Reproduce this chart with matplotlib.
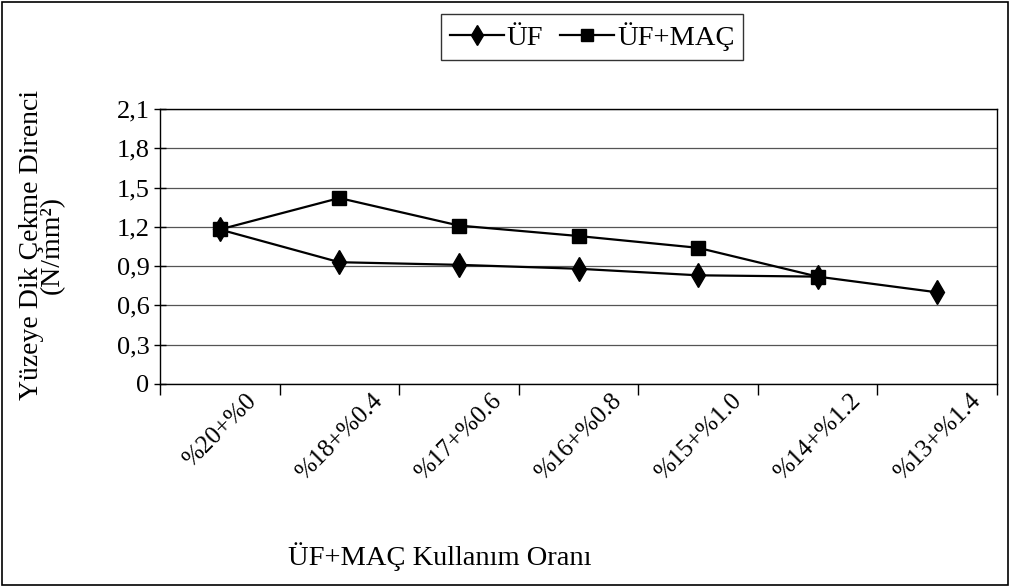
import numpy as np
import matplotlib
matplotlib.use("Agg")
import matplotlib.pyplot as plt
from matplotlib.patches import Rectangle

plt.rcParams['font.family'] = ['Liberation Serif', 'DejaVu Serif']

# Kullanım oranları ve yüzeye dik çekme direnci değerleri (N/mm2)
kategoriler = ["%20+%0", "%18+%0.4", "%17+%0.6", "%16+%0.8",
               "%15+%1.0", "%14+%1.2", "%13+%1.4"]
uf = [1.18, 0.93, 0.91, 0.88, 0.83, 0.82, 0.70]
uf_mac = [1.18, 1.42, 1.21, 1.13, 1.04, 0.82]
y_ticks = [0, 0.3, 0.6, 0.9, 1.2, 1.5, 1.8, 2.1]
y_tick_labels = ["0", "0,3", "0,6", "0,9", "1,2", "1,5", "1,8", "2,1"]

fig = plt.figure(figsize=(10.1, 5.87), dpi=100)
ax = fig.add_axes([160 / 1010, 1 - 384 / 587, 837 / 1010, 275 / 587])

x = np.arange(len(kategoriler))
ax.plot(x, uf, color='black', lw=1.6, marker='d', ms=12, label='ÜF')
ax.plot(x[:len(uf_mac)], uf_mac, color='black', lw=1.6, marker='s', ms=10,
        label='ÜF+MAÇ')

ax.set_xlim(-0.5, len(kategoriler) - 0.5)
ax.set_ylim(0, 2.1)

# y ekseni
ax.set_yticks(y_ticks)
ax.set_yticklabels(y_tick_labels, fontsize=19)
ax.tick_params(axis='y', direction='inout', length=9, width=1, pad=3)
ax.grid(axis='y', color='#555555', lw=0.9)
ax.set_axisbelow(True)

# x ekseni: çentikler kategori sınırlarında, etiketler ortada
ax.set_xticks(np.arange(-0.5, len(kategoriler), 1.0))
ax.set_xticklabels([])
ax.tick_params(axis='x', which='major', direction='out', length=8, width=1)
ax.set_xticks(x, minor=True)
ax.set_xticklabels(kategoriler, minor=True, rotation=45, fontsize=18)
ax.tick_params(axis='x', which='minor', length=0, pad=4)

for s in ax.spines.values():
    s.set_linewidth(1.0)
    s.set_color('black')

fig.text(42 / 1010, 1 - 245 / 587, "Yüzeye Dik Çekme Direnci\n(N/mm²)",
         fontsize=20, rotation=90, ha='center', va='center',
         multialignment='center', linespacing=0.82)
fig.text(440 / 1010, 1 - 557 / 587, "ÜF+MAÇ Kullanım Oranı",
         fontsize=20.5, ha='center', va='center')

leg = fig.legend(loc='center', bbox_to_anchor=(592 / 1010, 1 - 37 / 587),
                 ncol=2, fontsize=20.5, frameon=True, fancybox=False,
                 edgecolor='black', handlelength=1.9, handletextpad=0.1,
                 columnspacing=0.6, borderpad=0.3, borderaxespad=0,
                 markerscale=0.85)
leg.get_frame().set_linewidth(1.0)

# grafik alanı çerçevesi
fig.patches.append(Rectangle((2 / 1010, 2 / 587), 1006 / 1010, 583 / 587,
                             transform=fig.transFigure, fill=False,
                             edgecolor='black', lw=1.2))

fig.savefig("out.png", dpi=100)
